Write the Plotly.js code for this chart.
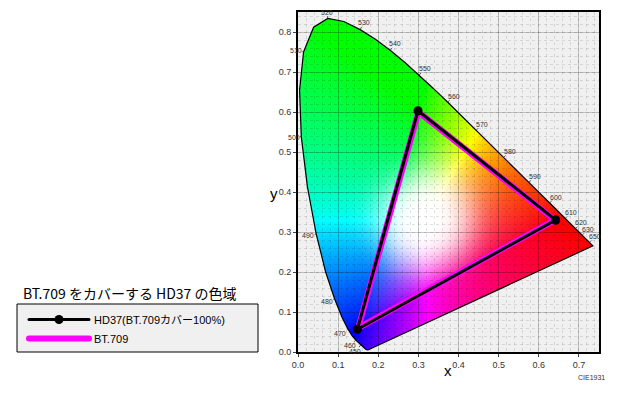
<!DOCTYPE html>
<html><head><meta charset="utf-8">
<script src="https://cdn.plot.ly/plotly-3.0.1.min.js"></script>
<style>html,body{margin:0;padding:0;background:#fff}</style>
</head><body>
<div id="chart" style="width:624px;height:394px"></div>
<script>
// CIE 1931 2° spectral locus (x, y) at 5 nm steps
const wavelengths = [380,385,390,395,400,405,410,415,420,425,430,435,440,445,450,455,460,465,470,475,480,485,490,495,500,505,510,515,520,525,530,535,540,545,550,555,560,565,570,575,580,585,590,595,600,605,610,615,620,625,630,635,640,645,650,655,660,665,670,675,680,685,690,695,700];
const locusX = [0.1741,0.1740,0.1738,0.1736,0.1733,0.1730,0.1726,0.1721,0.1714,0.1703,0.1689,0.1669,0.1644,0.1611,0.1566,0.1510,0.1440,0.1355,0.1241,0.1096,0.0913,0.0687,0.0454,0.0235,0.0082,0.0039,0.0139,0.0389,0.0743,0.1142,0.1547,0.1929,0.2296,0.2658,0.3016,0.3373,0.3731,0.4087,0.4441,0.4788,0.5125,0.5448,0.5752,0.6029,0.6270,0.6482,0.6658,0.6801,0.6915,0.7006,0.7079,0.7140,0.7190,0.7230,0.7260,0.7283,0.7300,0.7311,0.7320,0.7327,0.7334,0.7340,0.7344,0.7346,0.7347];
const locusY = [0.0050,0.0050,0.0049,0.0049,0.0048,0.0048,0.0048,0.0048,0.0051,0.0058,0.0069,0.0086,0.0109,0.0138,0.0177,0.0227,0.0297,0.0399,0.0578,0.0868,0.1327,0.2007,0.2950,0.4127,0.5384,0.6548,0.7502,0.8120,0.8338,0.8262,0.8059,0.7816,0.7543,0.7243,0.6923,0.6589,0.6245,0.5896,0.5547,0.5202,0.4866,0.4544,0.4242,0.3965,0.3725,0.3514,0.3340,0.3197,0.3083,0.2993,0.2920,0.2859,0.2809,0.2770,0.2740,0.2717,0.2700,0.2689,0.2680,0.2673,0.2666,0.2660,0.2656,0.2654,0.2653];
const labelWavelengths = [450,460,470,480,490,500,510,520,530,540,550,560,570,580,590,600,610,620,630,650];

// Gamut triangles (R, G, B, back to R)
const bt709X = [0.640,0.300,0.150,0.640];
const bt709Y = [0.330,0.600,0.060,0.330];
const hd37X  = [0.642,0.299,0.148,0.642];
const hd37Y  = [0.330,0.603,0.057,0.330];

const xTickVals = [0,0.1,0.2,0.3,0.4,0.5,0.6,0.7];
const yTickVals = [0,0.1,0.2,0.3,0.4,0.5,0.6,0.7,0.8];

const legendTitle = 'BT.709 をカバーする HD37 の色域';
const nameHD37 = 'HD37(BT.709カバー100%)';
const nameBT709 = 'BT.709';

// ---- layout constants ----
const FW = 624, FH = 394;
const M = {l:298, r:25, t:12, b:42};
const XR = [0, 0.75], YR = [0, 0.85];
const PW = FW - M.l - M.r, PH = FH - M.t - M.b;
const px = v => (v - M.l) / PW;          // pixel x -> paper
const py = v => (FH - M.b - v) / PH;     // pixel y -> paper
const FONT = 'Liberation Sans, Arial, sans-serif';

// ---- chromaticity colour fill (rendered to an image, clipped to the locus) ----
function buildImage(){
  const W = 602, H = 680;
  const cv = document.createElement('canvas'); cv.width = W; cv.height = H;
  const ctx = cv.getContext('2d');
  const img = ctx.createImageData(W, H);
  const WX = 0.315, WY = 0.33, SIG = 0.12;
  for (let j = 0; j < H; j++){
    let y = YR[1] - (j + 0.5) / H * (YR[1] - YR[0]);
    if (y < 0.002) y = 0.002;
    for (let i = 0; i < W; i++){
      const x = XR[0] + (i + 0.5) / W * (XR[1] - XR[0]);
      const X = x / y, Z = (1 - x - y) / y;
      let r = 3.2406*X - 1.5372 - 0.4986*Z;
      let g = -0.9689*X + 1.8758 + 0.0415*Z;
      let b = 0.0557*X - 0.2040 + 1.0570*Z;
      r = Math.max(r,0); g = Math.max(g,0); b = Math.max(b,0);
      const m = Math.max(r,g,b) || 1;
      r = Math.pow(r/m, 0.75); g = Math.pow(g/m, 0.75); b = Math.pow(b/m, 0.75);
      const d = Math.hypot(x - WX, y - WY);
      const w = Math.exp(-Math.pow(d/SIG, 3));
      r = r*(1-w) + w; g = g*(1-w) + w; b = b*(1-w) + w;
      const k = 4*(j*W + i);
      img.data[k]   = Math.round(255*r);
      img.data[k+1] = Math.round(255*g);
      img.data[k+2] = Math.round(255*b);
      img.data[k+3] = 255;
    }
  }
  ctx.putImageData(img, 0, 0);
  ctx.globalCompositeOperation = 'destination-in';
  ctx.beginPath();
  for (let k = 0; k < locusX.length; k++){
    const X = (locusX[k] - XR[0]) / (XR[1]-XR[0]) * W;
    const Y = (YR[1] - locusY[k]) / (YR[1]-YR[0]) * H;
    if (k === 0) ctx.moveTo(X, Y); else ctx.lineTo(X, Y);
  }
  ctx.closePath(); ctx.fillStyle = '#000'; ctx.fill();
  return cv.toDataURL('image/png');
}

// ---- wavelength labels ----
const sx = PW / (XR[1]-XR[0]), sy = PH / (YR[1]-YR[0]);
const annotations = [];
labelWavelengths.forEach(wl => {
  const k = wavelengths.indexOf(wl);
  const kp = Math.max(0, k-1), kn = Math.min(wavelengths.length-1, k+1);
  const tx = (locusX[kn]-locusX[kp])*sx, ty = -(locusY[kn]-locusY[kp])*sy;
  let nx = ty, ny = -tx; const L = Math.hypot(nx, ny) || 1; nx /= L; ny /= L;
  const ox = (locusX[k]-0.33)*sx, oy = -(locusY[k]-0.33)*sy;
  if (nx*ox + ny*oy < 0){ nx = -nx; ny = -ny; }
  const D = 2 + Math.abs(nx)*5.5 + Math.abs(ny)*3.5;
  annotations.push({x: locusX[k], y: locusY[k], xref:'x', yref:'y', text: String(wl),
    showarrow: true, arrowhead: 0, arrowwidth: 0.8, arrowcolor: '#333', standoff: 0,
    ax: nx*D, ay: ny*D, borderpad: 0,
    font: {size: 7, color: '#333', family: FONT}});
});
annotations.push({xref:'paper', yref:'paper', x: px(269), y: py(193), text:'y', showarrow:false, borderpad:0,
  font:{size:15, color:'#000', family: FONT}});
annotations.push({xref:'paper', yref:'paper', x: px(448), y: py(370), yanchor:'middle', text:'x', showarrow:false,
  font:{size:15, color:'#000', family: FONT}});
annotations.push({xref:'paper', yref:'paper', x: px(607), y: py(383), xanchor:'right', text:'CIE1931', showarrow:false,
  font:{size:7, color:'#333', family: FONT}});
annotations.push({xref:'paper', yref:'paper', x: px(21), y: py(293), xanchor:'left', yanchor:'middle', text: legendTitle, showarrow:false,
  font:{size:14, color:'#000', family:'Noto Sans CJK JP, sans-serif'}});

const traces = [
  {x: locusX.concat([locusX[0]]), y: locusY.concat([locusY[0]]), mode:'lines',
   line:{color:'#000', width:1.2}, showlegend:false, hoverinfo:'skip'},
  {x: bt709X, y: bt709Y, mode:'lines', name: nameBT709, legendrank: 2,
   line:{color:'#ff00ff', width:6}},
  {x: hd37X, y: hd37Y, mode:'lines+markers', name: nameHD37, legendrank: 1,
   line:{color:'#000', width:3}, marker:{color:'#000', size:9}}
];

const axisCommon = {
  showline:true, linecolor:'#000', linewidth:2, mirror:true,
  ticks:'outside', ticklen:3, tickcolor:'#444', tickwidth:1,
  showgrid:true, gridcolor:'rgba(0,0,0,0.2)', gridwidth:1, zeroline:false,
  minor:{dtick:0.02, showgrid:true, gridcolor:'rgba(0,0,0,0.11)', griddash:'dot', gridwidth:1},
  tickformat:'.1f', tickfont:{size:9, color:'#333', family: FONT},
  fixedrange:true
};

const layout = {
  width: FW, height: FH, margin: M,
  paper_bgcolor:'#fff', plot_bgcolor:'#f0f0f0',
  xaxis: Object.assign({}, axisCommon, {range: XR, tickvals: xTickVals}),
  yaxis: Object.assign({}, axisCommon, {range: YR, tickvals: yTickVals}),
  showlegend: true,
  legend: {x: px(24), xanchor:'left', y: py(305), yanchor:'top', bgcolor:'rgba(0,0,0,0)', borderwidth:0,
    itemwidth: 60, font:{size:11, color:'#000', family:'Liberation Sans, Noto Sans CJK JP, sans-serif'}},
  shapes: [{type:'rect', xref:'paper', yref:'paper', x0: px(17), x1: px(258), y0: py(352), y1: py(304),
    fillcolor:'#f0f0f0', line:{color:'#000', width:1}, layer:'above'}],
  images: [{source: buildImage(), xref:'x', yref:'y', x: XR[0], y: YR[1], sizex: XR[1]-XR[0], sizey: YR[1]-YR[0],
    sizing:'stretch', xanchor:'left', yanchor:'top', layer:'below'}],
  annotations: annotations
};

Plotly.newPlot('chart', traces, layout, {displayModeBar:false, staticPlot:true}).then(() => {
  document.querySelectorAll('.legend .legendlines path').forEach(p => {
    p.style.strokeLinecap = 'round';
  });
});
</script>
</body></html>
